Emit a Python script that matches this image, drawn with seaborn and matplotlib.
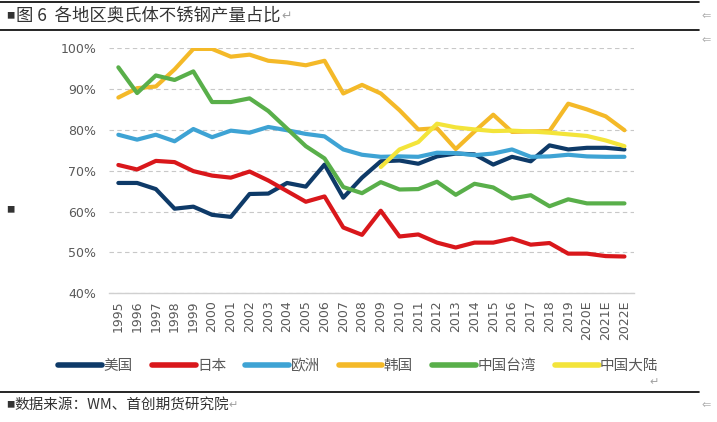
import matplotlib
matplotlib.use("Agg")
import matplotlib.pyplot as plt
import numpy as np
import pandas as pd
import seaborn as sns

# category labels on the x axis
years = ["1995", "1996", "1997", "1998", "1999", "2000", "2001", "2002", "2003",
         "2004", "2005", "2006", "2007", "2008", "2009", "2010", "2011", "2012",
         "2013", "2014", "2015", "2016", "2017", "2018", "2019", "2020E",
         "2021E", "2022E"]

# share of austenitic stainless steel output (%)
usa = [67.0, 67.0, 65.5, 60.7, 61.2, 59.2, 58.7, 64.3, 64.4, 67.0, 66.1, 71.5,
       63.4, 68.3, 72.3, 72.5, 71.7, 73.5, 74.2, 74.0, 71.5, 73.4, 72.3, 76.2,
       75.2, 75.6, 75.6, 75.2]
japan = [71.4, 70.3, 72.4, 72.1, 69.9, 68.8, 68.3, 69.8, 67.6, 65.0, 62.4, 63.7,
         56.1, 54.3, 60.2, 53.9, 54.4, 52.4, 51.2, 52.4, 52.4, 53.4, 51.9, 52.3,
         49.7, 49.7, 49.1, 49.0]
europe = [78.8, 77.6, 78.8, 77.2, 80.2, 78.2, 79.8, 79.3, 80.7, 79.9, 79.0, 78.4,
          75.2, 73.9, 73.4, 73.5, 73.4, 74.4, 74.3, 73.8, 74.2, 75.2, 73.4, 73.5,
          73.9, 73.5, 73.4, 73.4]
korea = [87.9, 90.2, 90.6, 94.8, 99.8, 99.8, 97.9, 98.4, 96.9, 96.5, 95.8, 96.9,
         88.9, 91.0, 88.9, 84.8, 80.1, 80.4, 75.3, 79.6, 83.7, 79.5, 79.6, 79.7,
         86.4, 85.0, 83.3, 79.9]
taiwan = [95.3, 89.0, 93.3, 92.2, 94.3, 86.8, 86.8, 87.7, 84.6, 80.3, 76.0, 73.0,
          66.0, 64.5, 67.2, 65.4, 65.5, 67.3, 64.1, 66.8, 65.9, 63.2, 64.0, 61.3,
          63.0, 62.0, 62.0, 62.0]
mainland = [None] * 14 + [70.9, 75.2, 77.0, 81.5, 80.6, 80.1, 79.7, 79.8, 79.6,
                          79.3, 78.9, 78.5, 77.4, 76.0]

series_names = ["美国", "日本", "欧洲", "韩国", "中国台湾", "中国大陆"]
series_values = [usa, japan, europe, korea, taiwan, mainland]
colors = ["#0E3A68", "#D9171B", "#3EA3D4", "#F4B928", "#59AF4A", "#F3E43A"]

rows = []
for name, vals in zip(series_names, series_values):
    for i, v in enumerate(vals):
        if v is not None:
            rows.append({"idx": i, "value": v, "region": name})
df = pd.DataFrame(rows)

sns.set_theme(style="white")
plt.rcParams["font.family"] = ["Noto Sans CJK SC", "DejaVu Sans"]

fig = plt.figure(figsize=(7.17, 4.22), dpi=100)
ax = fig.add_axes([0.152, 0.305, 0.732, 0.581])

sns.lineplot(data=df, x="idx", y="value", hue="region", hue_order=series_names,
             palette=colors, linewidth=3.0, ax=ax, legend=False)

ax.set_xlim(-0.5, len(years) - 0.5)
ax.set_ylim(40, 100)
ax.set_yticks(np.arange(40, 101, 10))
ax.set_yticklabels([f"{t}%" for t in range(40, 101, 10)], color="#595959",
                   fontsize=9, family=["DejaVu Sans"])
ax.set_xticks(range(len(years)))
ax.set_xticklabels(years, rotation=90, color="#595959", fontsize=9,
                   family=["DejaVu Sans"])
ax.tick_params(axis="y", length=0, pad=9)
ax.tick_params(axis="x", length=0, pad=5)
ax.set_xlabel("")
ax.set_ylabel("")
ax.grid(axis="y", color="#C8C8C8", linestyle=(0, (4, 3)), linewidth=0.8)
for side in ["top", "right", "left"]:
    ax.spines[side].set_visible(False)
ax.spines["bottom"].set_color("#D0D0D0")
ax.spines["bottom"].set_linewidth(1)

# legend
handles = [plt.Line2D([], [], color=c, linewidth=4) for c in colors]
fig.legend(handles, series_names, loc="center", bbox_to_anchor=(0.50, 0.133),
           ncol=6, frameon=False, handlelength=3.0, handletextpad=0.1,
           columnspacing=1.3, prop={"size": 10.5},
           labelcolor="#595959")

# document frame: rules, caption and source
fig.add_artist(plt.Line2D([0.0, 0.975], [0.995, 0.995], color="black", lw=1.2))
fig.add_artist(plt.Line2D([0.0, 0.975], [0.928, 0.928], color="black", lw=1.2))
fig.add_artist(plt.Line2D([0.0, 0.975], [0.072, 0.072], color="black", lw=1.2))
fig.text(0.008, 0.962, "■", fontsize=6, va="center", color="#333333")
fig.text(0.022, 0.962, "图 6  各地区奥氏体不锈钢产量占比", fontsize=12.5,
         va="center", color="#333333")
fig.text(0.393, 0.962, "↵", fontsize=9, va="center", color="#A0A0A0",
         family=["DejaVu Sans"])
fig.text(0.008, 0.502, "■", fontsize=6, va="center", color="#333333")
fig.text(0.008, 0.040, "■", fontsize=6, va="center", color="#333333")
fig.text(0.020, 0.040, "数据来源：WM、首创期货研究院", fontsize=10.5,
         va="center", color="#333333")
fig.text(0.318, 0.040, "↵", fontsize=8, va="center", color="#A0A0A0",
         family=["DejaVu Sans"])
fig.text(0.906, 0.095, "↵", fontsize=8, va="center", color="#A0A0A0",
         family=["DejaVu Sans"])
for yy in [0.962, 0.905, 0.040]:
    fig.text(0.978, yy, "⇐", fontsize=8, va="center", color="#B0B0B0",
             family=["DejaVu Sans"])

fig.savefig("out.png", dpi=100)
